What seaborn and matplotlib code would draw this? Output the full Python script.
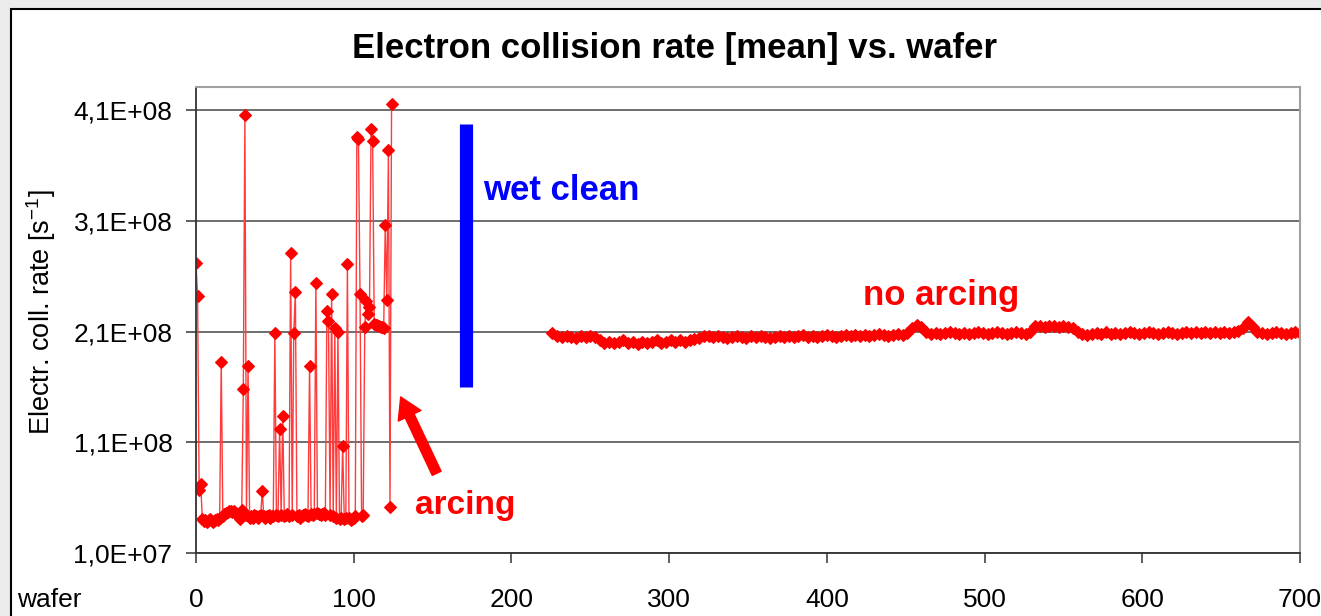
import numpy as np
import pandas as pd
import matplotlib
matplotlib.use("Agg")
import matplotlib.pyplot as plt
import matplotlib.patches as mpatches
import seaborn as sns

# ---------------- data (values in units of 1e6 s^-1) ----------------
left_wafer = np.arange(0, 125)
left_value_e6 = [
    272, 242, 67, 72, 41, 39, 40, 38, 40, 41,
    39, 38, 40, 41, 40, 42, 183, 43, 45, 46,
    47, 48, 48, 47, 48, 46, 45, 43, 41, 49,
    158, 406, 44, 179, 42, 43, 42, 44, 43, 42,
    43, 44, 66, 43, 42, 43, 44, 42, 43, 43,
    209, 44, 43, 122, 44, 134, 43, 44, 45, 43,
    281, 44, 209, 246, 43, 44, 42, 43, 44, 45,
    44, 43, 179, 45, 44, 45, 254, 46, 45, 44,
    45, 46, 44, 229, 220, 44, 244, 43, 213, 42,
    210, 41, 42, 107, 41, 42, 271, 42, 40, 41,
    42, 43, 386, 384, 244, 43, 44, 214, 238, 226,
    232, 393, 382, 217, 216, 216, 215, 214, 214, 213,
    306, 239, 374, 52, 416,
]

right_wafer = np.arange(226, 701, 3)
right_value_e6 = (
    [209, 206, 205, 206, 205, 204, 206, 205, 206, 205, 202]
    + [200, 201, 200, 201, 202, 200, 201, 199, 201, 200,
       201, 202, 200, 201, 202, 201, 202, 201, 202, 203, 204]
    + [206, 206, 205, 206, 205, 204, 205, 206, 205, 204, 206,
       205, 206, 205, 204, 205, 206, 205, 206, 205, 206,
       207, 205, 206, 205, 206, 207, 206, 205, 206, 207,
       206, 207, 206, 207, 206, 207, 208, 207, 206, 207,
       208, 207, 209]
    + [213, 216, 214, 210]
    + [208, 209, 208, 209, 210, 209, 208, 209, 208, 209,
       210, 209, 208, 209, 210, 209, 208, 209, 210, 209, 208, 210]
    + [215, 215, 214, 215, 215, 214, 215, 214, 213]
    + [210, 208, 207, 208, 209, 208, 210, 208, 209, 208,
       209, 210, 209, 208, 209, 210, 209, 208, 209, 210,
       209, 208, 209, 210, 209, 210, 209, 210, 209, 210,
       209, 210, 209, 210, 211, 213]
    + [219, 214, 210, 209, 208, 209, 210, 209, 208, 209, 210, 209]
)

SCALE = 1e6
y_ticks = [1.0e7, 1.1e8, 2.1e8, 3.1e8, 4.1e8]
y_tick_labels = ["1,0E+07", "1,1E+08", "2,1E+08", "3,1E+08", "4,1E+08"]
x_ticks = [0, 100, 200, 300, 400, 500, 600, 700]

wet_clean_x = 171.5
wet_clean_range = [1.602e8, 3.98e8]

df_left = pd.DataFrame({"wafer": left_wafer, "rate": np.array(left_value_e6) * SCALE})
df_right = pd.DataFrame({"wafer": right_wafer, "rate": np.array(right_value_e6) * SCALE})

# ---------------- style ----------------
sns.set_theme(style="white")
plt.rcParams["font.family"] = ["Liberation Sans", "DejaVu Sans"]
plt.rcParams["mathtext.fontset"] = "custom"
plt.rcParams["mathtext.rm"] = "Liberation Sans"
plt.rcParams["mathtext.it"] = "Liberation Sans"

W, H = 1321, 616
fig = plt.figure(figsize=(W / 100, H / 100), dpi=100, facecolor="#ebebeb")

# white chart frame with black border
frame = mpatches.Rectangle((11 / W, -0.05), 1.2, 1 - 9 / H + 0.05,
                           transform=fig.transFigure, facecolor="white",
                           edgecolor="black", linewidth=1.5, zorder=-10)
fig.patches.append(frame)

ax = fig.add_axes([196 / W, 1 - 553 / H, (1300 - 196) / W, (553 - 87) / H])
ax.set_zorder(5)
ax.set_facecolor("white")

line_kw = dict(color="#ff3b3b", linewidth=1.0, marker="D", markersize=6,
               markerfacecolor="red", markeredgecolor="red", markeredgewidth=0.8,
               estimator=None, sort=False, legend=False)
sns.lineplot(data=df_left, x="wafer", y="rate", ax=ax, **line_kw)
sns.lineplot(data=df_right, x="wafer", y="rate", ax=ax, **line_kw)

# wet clean bar
ax.plot([wet_clean_x, wet_clean_x], wet_clean_range, color="#0000ff",
        linewidth=9.5, solid_capstyle="butt", zorder=4)

ax.set_xlim(0, 700)
ax.set_ylim(1.0e7, 4.31e8)
ax.set_xticks(x_ticks)
ax.set_xticklabels([str(t) for t in x_ticks])
ax.set_yticks(y_ticks)
ax.set_yticklabels(y_tick_labels)
ax.set_xlabel("")
ax.set_ylabel("")

ax.yaxis.grid(True, color="#555555", linewidth=1.2)
ax.xaxis.grid(False)
ax.set_axisbelow(True)

for s in ["top", "right"]:
    ax.spines[s].set_color("#a0a0a0")
    ax.spines[s].set_linewidth(1.5)
for s in ["left", "bottom"]:
    ax.spines[s].set_color("#333333")
    ax.spines[s].set_linewidth(1.3)

ax.tick_params(axis="both", which="major", direction="out", length=7, width=1.1,
               color="#333333", labelsize=19, labelcolor="black")
ax.tick_params(axis="y", pad=10, left=True)
ax.tick_params(axis="x", pad=18.5, bottom=True)

# texts
fig.text(675 / W, 1 - 58 / H, "Electron collision rate [mean] vs. wafer",
         ha="center", va="baseline", fontsize=25, fontweight="bold", color="black")
fig.text(41 / W, 1 - 312 / H, r"Electr. coll. rate [s$^{-1}$]", rotation=90,
         ha="center", va="center", fontsize=19.5, color="black")
fig.text(17 / W, 1 - 607 / H, "wafer", ha="left", va="baseline",
         fontsize=19, color="black")

ax.text(182, 3.29e8, "wet clean", color="#0000ff", fontsize=25,
        fontweight="bold", ha="left", va="baseline")
ax.text(423, 2.34e8, "no arcing", color="red", fontsize=25,
        fontweight="bold", ha="left", va="baseline")
ax.text(139, 4.5e7, "arcing", color="red", fontsize=24,
        fontweight="bold", ha="left", va="baseline")
ax.annotate("", xy=(129.8, 1.51e8), xytext=(152.6, 8.2e7),
            arrowprops=dict(facecolor="red", edgecolor="red", width=7,
                            headwidth=18, headlength=15, shrink=0))

fig.savefig("out.png", dpi=100, facecolor=fig.get_facecolor())
